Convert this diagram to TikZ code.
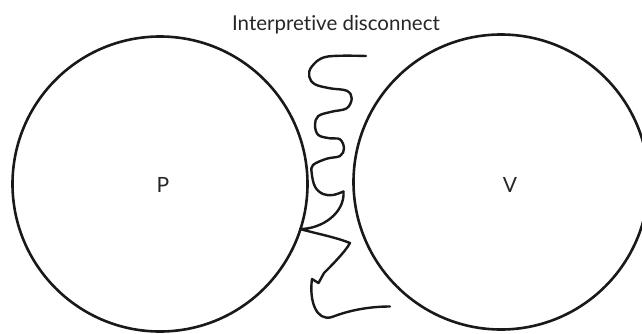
\documentclass[tikz,border=0pt]{standalone}
\usepackage{fontspec}
\setmainfont{Lato}[Ligatures={NoCommon,NoContextual}]
\begin{document}
\begin{tikzpicture}[x=1pt,y=-1pt,
  ring/.style={draw=black!90, line width=2.6pt, circle, minimum size=295pt, inner sep=0pt},
  lbl/.style={font=\fontsize{21}{24}\selectfont, text=black!85},
  squig/.style={draw=black!90, line width=2.4pt, line join=round, line cap=round}]
\useasboundingbox (0,0) rectangle (642,333);
\node[ring] (P) at (160,184) {};
\node[ring] (V) at (501,182) {};
\node[lbl] (pl) at (163,185) {P};
\node[lbl] (vl) at (510,185) {V};
\node[lbl, anchor=base, font=\fontsize{20.5}{24}\selectfont] (title) at (336,30) {Interpretive disconnect};
\coordinate (s) at (366,56);
\coordinate (c1) at (343.5,191.5);
\coordinate (c2) at (300,229);
\coordinate (c3) at (350,243);
\coordinate (e) at (390,306.5);
\draw[squig] plot[smooth, tension=0.6] coordinates {(366,56) (326.7,56.7) (311.7,66.7) (309.3,76.7) (315,84.3) (330,88.3) (346.7,90.7) (351.7,98.3) (346.7,108.3) (331.7,111.7) (318.3,116) (315,125) (318.3,135) (330,138.3) (340,139.3) (344,148.3) (340,156) (326.7,158.7) (313,165) (311.7,173) (315,186.7) (323,194) (333,195) (343.5,191.5)};
\draw[squig] (c1) .. controls (345,213) and (322,229) .. (c2)
  .. controls (318,234) and (335,237) .. (c3)
  .. controls (345,252) and (332,265) .. (324,273) -- (318.5,283) -- (312,279)
  .. controls (309,300) and (316,322) .. (332,317)
  .. controls (350,310) and (370,306.5) .. (e);
\end{tikzpicture}
\end{document}
